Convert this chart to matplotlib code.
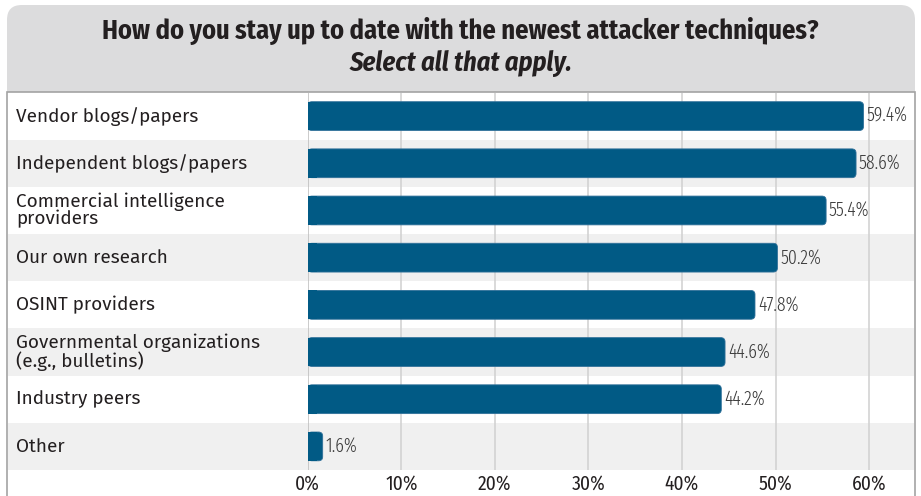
import matplotlib
matplotlib.use("Agg")
import matplotlib.pyplot as plt
import matplotlib.transforms as mtransforms
from matplotlib.patches import FancyBboxPatch, Rectangle

# data
categories = ["Vendor blogs/papers", "Independent blogs/papers",
              "Commercial intelligence\nproviders", "Our own research",
              "OSINT providers", "Governmental organizations\n(e.g., bulletins)",
              "Industry peers", "Other"]
values = [59.4, 58.6, 55.4, 50.2, 47.8, 44.6, 44.2, 1.6]
ticks = [0, 10, 20, 30, 40, 50, 60]

cond = ["Fira Sans Condensed", "DejaVu Sans"]
xcond = ["Fira Sans Extra Condensed", "DejaVu Sans"]
plain = ["Fira Sans", "DejaVu Sans"]
bar_col = "#015a85"
border = "#a3a3a3"

W, H = 921, 496
fig = plt.figure(figsize=(W / 100, H / 100), dpi=100)

def fx(px):
    return px / W

def fy(py):
    return 1 - py / H

# title box (gray, rounded top) and chart box
fig.patches.append(FancyBboxPatch((fx(7), fy(130)), fx(908), fy(5) - fy(130),
                                  boxstyle="round,pad=0,rounding_size=0.016",
                                  mutation_aspect=W / H,
                                  transform=fig.transFigure, fc="#dcdcdd",
                                  ec="none", zorder=0))
fig.patches.append(Rectangle((fx(7), -0.01), fx(908), fy(92) + 0.01, transform=fig.transFigure,
                             fc="white", ec=border, lw=1.2, zorder=1))
fig.text(0.5, fy(31), "How do you stay up to date with the newest attacker techniques?",
         ha="center", va="center", fontsize=19, fontweight="bold", family=cond,
         color="#231f20")
fig.text(0.5, fy(64), "Select all that apply.", ha="center", va="center", fontsize=19,
         fontweight="bold", style="italic", family=cond, color="#231f20")

ax = fig.add_axes([fx(307.7), fy(470), fx(915) - fx(307.7), fy(92.5) - fy(470)])
ax.set_zorder(2)
ax.patch.set_alpha(0)
n = len(categories)
ax.set_xlim(0, 64.9)
ax.set_ylim(n - 0.5, -0.5)

xmin = (7.5 - 307.7) / (915 - 307.7)
for i in range(n):
    if i % 2 == 1:
        ax.axhspan(i - 0.5, i + 0.5, xmin=xmin, xmax=0.999, fc="#f0f0f0", ec="none",
                   clip_on=False, zorder=0)

for t in ticks[1:]:
    ax.axvline(t, color="#d0d0d0", lw=1.1, zorder=1)
ax.axvline(0, color="#bdbdbd", lw=1.1, zorder=1)

for i, v in enumerate(values):
    ax.add_patch(FancyBboxPatch((0, i - 0.305), v, 0.61,
                                boxstyle="round,pad=0,rounding_size=0.45",
                                mutation_aspect=1 / 5.2,
                                fc=bar_col, ec="#2f7099", lw=0.6, zorder=3))
    ax.add_patch(Rectangle((0, i - 0.305), min(v, 1), 0.61, fc=bar_col, ec="none", zorder=3))
    ax.text(v + 0.3, i, f"{v}%", ha="left", va="center", fontsize=14, fontweight=300,
            family=xcond, color="#3c3c3c", zorder=4)

lbl = mtransforms.blended_transform_factory(fig.transFigure, ax.transData)
for i, c in enumerate(categories):
    ax.text(fx(16), i, c, transform=lbl, ha="left", va="center", fontsize=13.7,
            family=plain, color="#231f20", linespacing=0.95)

ax.set_xticks(ticks)
ax.set_xticklabels([f"{t}%" for t in ticks], family=cond, fontsize=14, color="#231f20")
ax.tick_params(axis="x", length=0, pad=3)
ax.set_yticks([])
for s in ax.spines.values():
    s.set_visible(False)

fig.savefig("out.png", dpi=100)
